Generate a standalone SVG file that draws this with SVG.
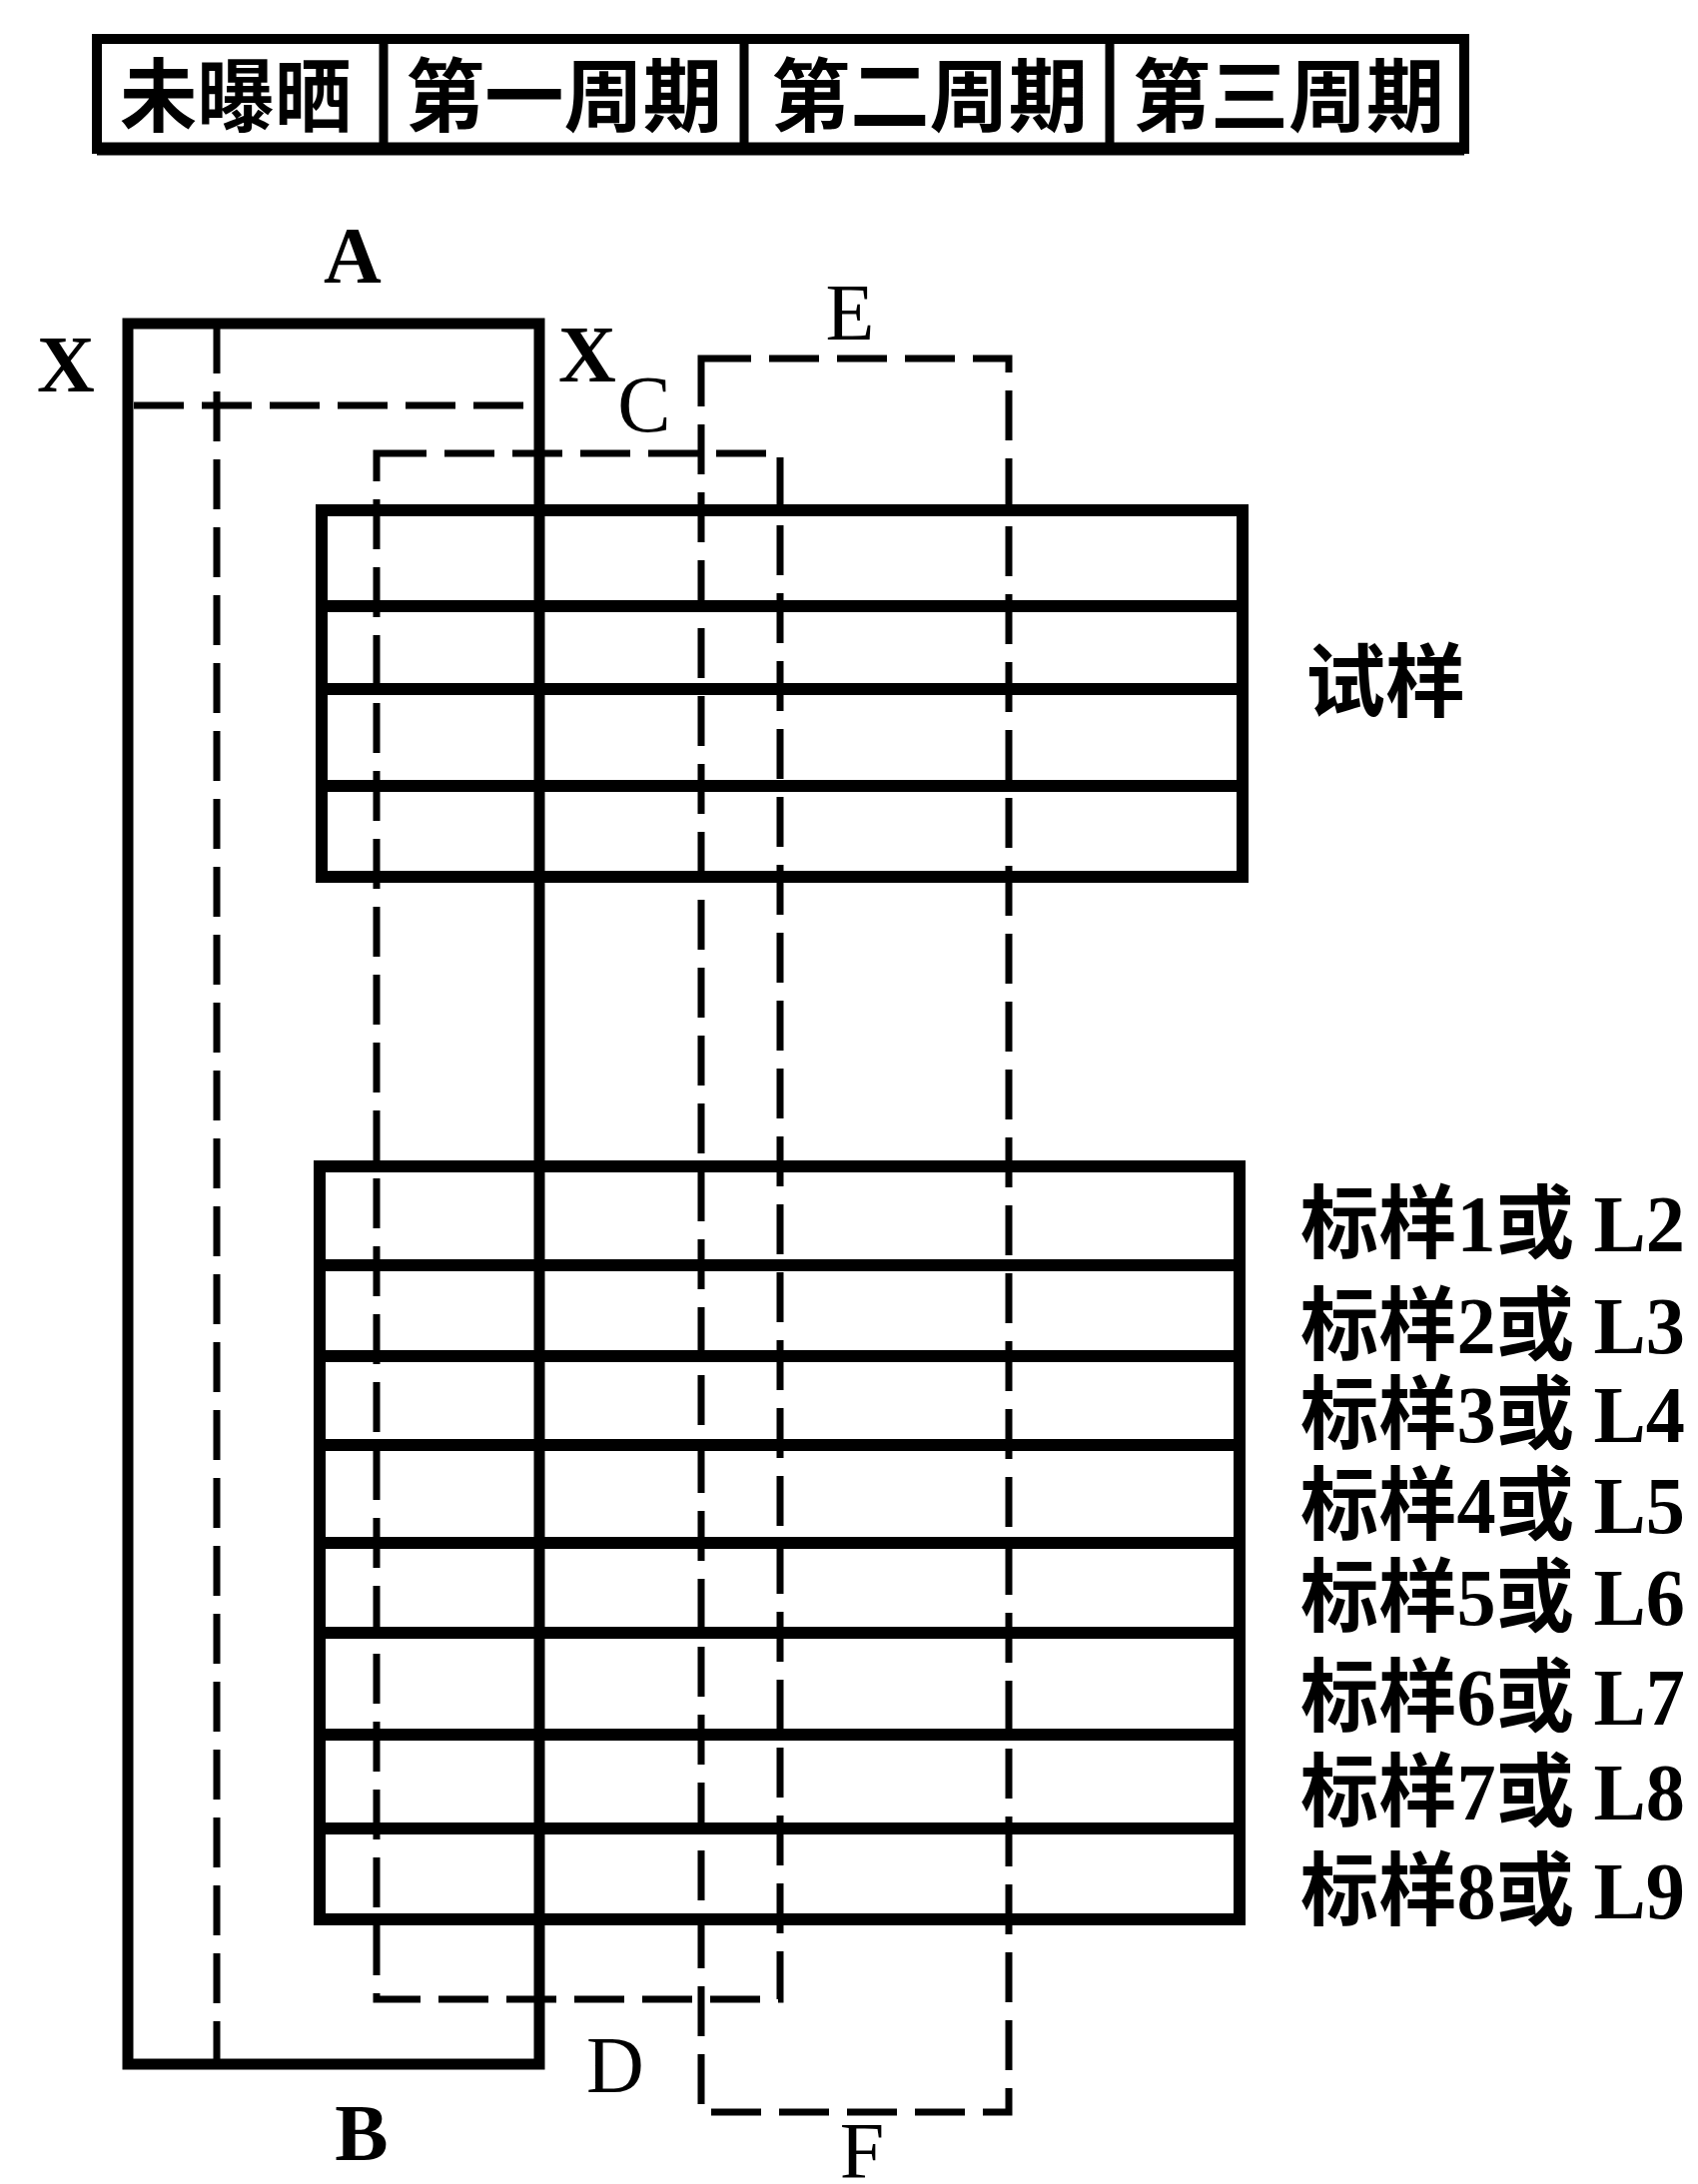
<svg xmlns="http://www.w3.org/2000/svg" width="1700" height="2187" viewBox="0 0 1700 2187">
<style>
.solid{fill:none;stroke:#000;stroke-width:11}
.row{fill:none;stroke:#000;stroke-width:12}
.dash{fill:none;stroke:#000;stroke-width:7;stroke-dasharray:50 18}
.cjk{font-family:"Liberation Serif","Noto Sans CJK SC",serif;font-weight:bold;font-size:80px;fill:#000}
.lb{font-family:"Liberation Serif",serif;font-weight:bold;font-size:80px;fill:#000;text-anchor:middle}
.ln{font-family:"Liberation Serif",serif;font-weight:normal;font-size:80px;fill:#000;text-anchor:middle}
</style>
<rect width="1700" height="2187" fill="#fff"/>
<g id="header">
  <rect x="97" y="39" width="1369" height="110" fill="none" stroke="#000" stroke-width="10"/>
  <line x1="97" y1="149" x2="1466" y2="149" stroke="#000" stroke-width="13"/>
  <line x1="384" y1="39" x2="384" y2="149" stroke="#000" stroke-width="9"/>
  <line x1="745" y1="39" x2="745" y2="149" stroke="#000" stroke-width="9"/>
  <line x1="1111" y1="39" x2="1111" y2="149" stroke="#000" stroke-width="9"/>
  <text class="cjk" x="120" y="125" font-size="82" textLength="232" lengthAdjust="spacingAndGlyphs">未曝晒</text>
  <text class="cjk" x="406" y="125" font-size="82" textLength="317" lengthAdjust="spacingAndGlyphs">第一周期</text>
  <text class="cjk" x="772" y="125" font-size="82" textLength="317" lengthAdjust="spacingAndGlyphs">第二周期</text>
  <text class="cjk" x="1134" y="125" font-size="82" textLength="312" lengthAdjust="spacingAndGlyphs">第三周期</text>
</g>
<g id="frameA">
  <rect class="solid" x="128" y="324" width="412" height="1743"/>
  <line class="dash" x1="217" y1="324" x2="217" y2="2067"/>
  <line class="dash" x1="134" y1="406" x2="540" y2="406"/>
  <text class="lb" x="353" y="283">A</text>
  <text class="lb" x="362" y="2163">B</text>
  <text class="lb" x="66" y="392">X</text>
  <text class="lb" x="588" y="382">X</text>
</g>
<g id="frameC">
  <rect class="dash" x="377" y="454" width="404" height="1548"/>
  <text class="ln" x="645" y="432">C</text>
  <text class="ln" x="616" y="2095">D</text>
</g>
<g id="frameE">
  <rect class="dash" x="702" y="359" width="308" height="1756"/>
  <text class="ln" x="851" y="340">E</text>
  <text class="ln" x="863" y="2181">F</text>
</g>
<g id="sample">
  <rect class="row" x="322" y="511" width="922" height="367"/>
  <line class="row" x1="322" y1="607" x2="1244" y2="607"/>
  <line class="row" x1="322" y1="690" x2="1244" y2="690"/>
  <line class="row" x1="322" y1="787" x2="1244" y2="787"/>
  <text class="cjk" x="1307" y="711" textLength="160" lengthAdjust="spacingAndGlyphs">试样</text>
</g>
<g id="standards">
  <rect class="row" x="320" y="1168" width="921" height="754"/>
  <line class="row" x1="320" y1="1267" x2="1241" y2="1267"/>
  <line class="row" x1="320" y1="1358" x2="1241" y2="1358"/>
  <line class="row" x1="320" y1="1447" x2="1241" y2="1447"/>
  <line class="row" x1="320" y1="1545" x2="1241" y2="1545"/>
  <line class="row" x1="320" y1="1635" x2="1241" y2="1635"/>
  <line class="row" x1="320" y1="1737" x2="1241" y2="1737"/>
  <line class="row" x1="320" y1="1831" x2="1241" y2="1831"/>
  <text class="cjk" x="1302" y="1253" textLength="385" lengthAdjust="spacingAndGlyphs">标样1或 L2</text>
  <text class="cjk" x="1302" y="1355" textLength="385" lengthAdjust="spacingAndGlyphs">标样2或 L3</text>
  <text class="cjk" x="1302" y="1444" textLength="385" lengthAdjust="spacingAndGlyphs">标样3或 L4</text>
  <text class="cjk" x="1302" y="1535" textLength="385" lengthAdjust="spacingAndGlyphs">标样4或 L5</text>
  <text class="cjk" x="1302" y="1627" textLength="385" lengthAdjust="spacingAndGlyphs">标样5或 L6</text>
  <text class="cjk" x="1302" y="1727" textLength="385" lengthAdjust="spacingAndGlyphs">标样6或 L7</text>
  <text class="cjk" x="1302" y="1822" textLength="385" lengthAdjust="spacingAndGlyphs">标样7或 L8</text>
  <text class="cjk" x="1302" y="1921" textLength="385" lengthAdjust="spacingAndGlyphs">标样8或 L9</text>
</g>
</svg>
